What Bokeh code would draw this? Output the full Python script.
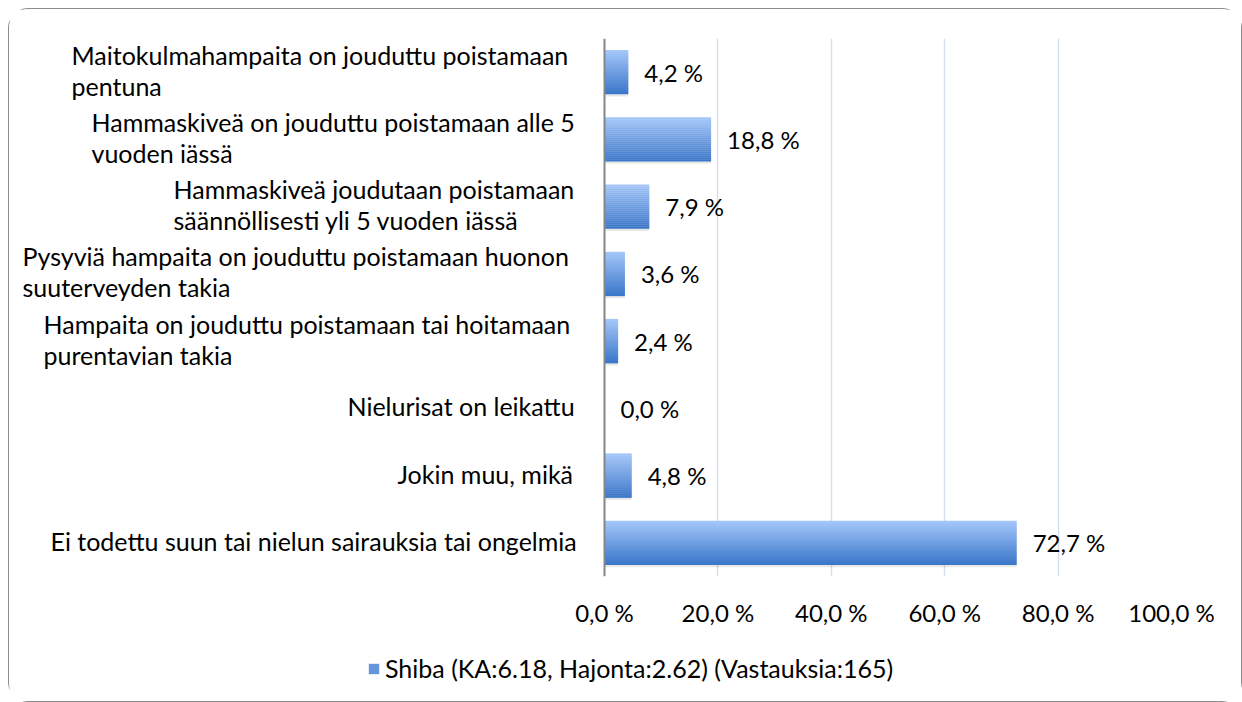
from bokeh.plotting import figure
from bokeh.layouts import column
from bokeh.models import (FactorRange, Range1d, FixedTicker, CustomJSTickFormatter,
                          ColumnDataSource, LabelSet, Legend, LegendItem, Span)
from bokeh.core.properties import value
from bokeh.transform import dodge
from bokeh.embed import file_html
from bokeh.resources import INLINE

# ---------------- data ----------------
categories = [
    "Maitokulmahampaita on jouduttu poistamaan\npentuna",
    "Hammaskiveä on jouduttu poistamaan alle 5\nvuoden iässä",
    "Hammaskiveä joudutaan poistamaan\nsäännöllisesti yli 5 vuoden iässä",
    "Pysyviä hampaita on jouduttu poistamaan huonon\nsuuterveyden takia",
    "Hampaita on jouduttu poistamaan tai hoitamaan\npurentavian takia",
    "Nielurisat on leikattu",
    "Jokin muu, mikä",
    "Ei todettu suun tai nielun sairauksia tai ongelmia",
]
values = [4.2, 18.8, 7.9, 3.6, 2.4, 0.0, 4.8, 72.7]
series_name = "Shiba (KA:6.18, Hajonta:2.62) (Vastauksia:165)"
x_ticks = [0, 20, 40, 60, 80, 100]

# label placement (screen px offsets from the value axis, left-aligned blocks)
label_offsets = [-533, -513, -431, -582, -561, -257, -207, -554]

FONT = "Lato"
FS_TEXT = "25px"
FS_NUM = "24px"

W = 1232
H_MAIN, H_LEG = 640, 52
LEFT_PX = 595          # where 0 % sits inside the canvas
PLOT_PX = 567          # width of 0..100 %

value_labels = [f"{v:.1f} %".replace(".", ",") for v in values]
src = ColumnDataSource(dict(
    cat=categories, val=values, vlabel=value_labels,
    zero=[0] * len(values), loff=label_offsets,
))

x_start = -100.0 * LEFT_PX / PLOT_PX
p = figure(width=W, height=H_MAIN,
           y_range=FactorRange(factors=categories[::-1]),
           x_range=Range1d(x_start, 100),
           output_backend="svg", toolbar_location=None,
           min_border_left=0, min_border_right=W - LEFT_PX - PLOT_PX,
           min_border_top=29, min_border_bottom=73)
p.outline_line_color = None
p.background_fill_color = "white"
p.border_fill_color = "white"

# grid
p.ygrid.grid_line_color = None
p.xgrid.ticker = FixedTicker(ticks=x_ticks[1:])
p.xgrid.grid_line_color = "#d5dfee"
p.xgrid.grid_line_width = 1.5

# x axis
p.xaxis.ticker = FixedTicker(ticks=x_ticks)
p.xaxis.formatter = CustomJSTickFormatter(code="return tick.toFixed(1).replace('.', ',') + ' %';")
p.xaxis.axis_line_color = None
p.xaxis.major_tick_line_color = None
p.xaxis.minor_tick_line_color = None
p.xaxis.major_label_standoff = 15
p.xaxis.major_label_text_font = FONT
p.xaxis.major_label_text_font_size = FS_NUM
p.xaxis.major_label_text_color = "black"

# y axis: hidden, its line drawn at 0 %
p.yaxis.visible = False
p.add_layout(Span(location=0, dimension="height", line_color="#868686", line_width=2))

# bars: soft shadow + vertical gradient built from stripes
bar_h = 0.655
p.hbar(y=dodge("cat", -0.035, range=p.y_range), right="val", height=bar_h,
       left=0, source=src, fill_color="black", fill_alpha=0.09, line_color=None)

N = 22
top = (0xA3, 0xC6, 0xF9)
bot = (0x3C, 0x78, 0xCA)
stripe_h = bar_h / N
stripe_colors = []
for i in range(N):
    t = i / (N - 1)
    col = "#%02x%02x%02x" % tuple(int(round(top[k] + (bot[k] - top[k]) * t)) for k in range(3))
    stripe_colors.append(col)
    off = bar_h / 2 - stripe_h * (i + 0.5)
    p.hbar(y=dodge("cat", off, range=p.y_range), right="val", left=0,
           height=stripe_h * 1.2, source=src, fill_color=col, line_color=None)

# value labels
p.add_layout(LabelSet(x="val", y="cat", text="vlabel", source=src, x_offset=16,
                      text_align="left", text_baseline="middle",
                      text_font=value(FONT), text_font_size=value(FS_NUM), text_color="black"))

# category labels
p.add_layout(LabelSet(x="zero", y="cat", text="cat", source=src, x_offset="loff",
                      y_offset=2,
                      text_align="left", text_baseline="middle",
                      text_font=value(FONT), text_font_size=value(FS_TEXT), text_color="black",
                      text_line_height=1.03))

# ---------------- legend strip ----------------
pl = figure(width=W, height=H_LEG, x_range=Range1d(0, 1), y_range=Range1d(0, 1),
            output_backend="svg", toolbar_location=None,
            x_axis_type=None, y_axis_type=None,
            min_border_left=0, min_border_right=W - LEFT_PX - PLOT_PX,
            min_border_top=0, min_border_bottom=0)
pl.outline_line_color = None
pl.grid.grid_line_color = None
pl.border_fill_color = "white"
# legend proxy (lies outside the strip's visible range)
proxy = ColumnDataSource(dict(y=[-1.0], right=[0.0]))
leg_r = pl.hbar(y="y", right="right", left=0, height=0.5, source=proxy,
                fill_color=stripe_colors[N // 2 + 2], line_color=None)
legend = Legend(items=[LegendItem(label=series_name, renderers=[leg_r])],
                location=(358, 18), orientation="horizontal",
                label_text_font=FONT, label_text_font_size=FS_TEXT, label_text_color="black",
                glyph_width=13, glyph_height=13, label_standoff=5,
                border_line_color=None, background_fill_alpha=0,
                margin=0, padding=2)
pl.add_layout(legend, "center")

layout = column(p, pl, spacing=0,
                styles={"margin": "8px 0 0 8px", "border": "1.5px solid #8c8c8c",
                        "border-radius": "20px"})

open("out.html", "w").write(file_html(layout, INLINE))
